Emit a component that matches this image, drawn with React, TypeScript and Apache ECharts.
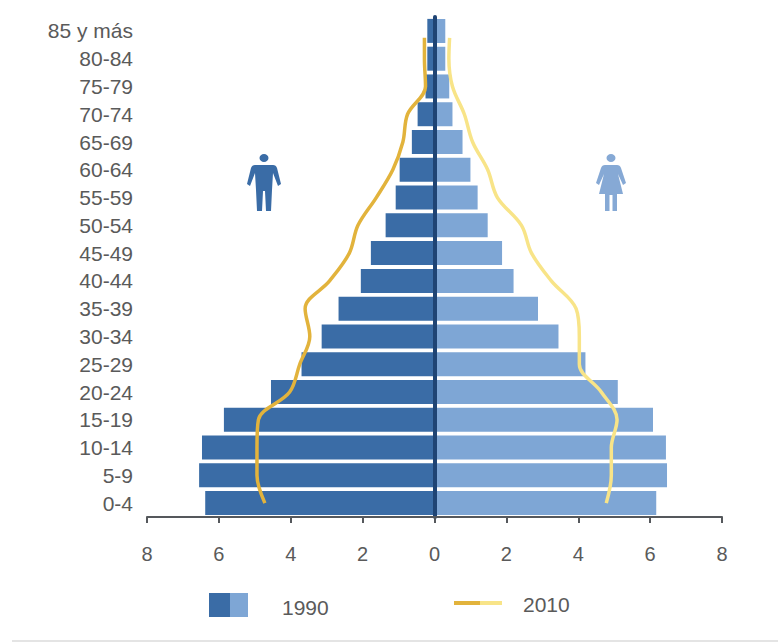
import React, { useEffect, useRef } from "react";
import * as echarts from "echarts";

// Age groups, youngest first (the category axis runs bottom to top).
const ageGroups = ["0-4", "5-9", "10-14", "15-19", "20-24", "25-29", "30-34", "35-39", "40-44", "45-49", "50-54", "55-59", "60-64", "65-69", "70-74", "75-79", "80-84", "85 y más"];

// Share of population in 1990, per cent.
const men1990 = [6.38, 6.55, 6.47, 5.86, 4.55, 3.7, 3.14, 2.67, 2.05, 1.77, 1.36, 1.08, 0.97, 0.63, 0.47, 0.25, 0.2, 0.2];
const women1990 = [6.17, 6.47, 6.44, 6.08, 5.1, 4.2, 3.45, 2.88, 2.2, 1.88, 1.48, 1.2, 1.0, 0.78, 0.5, 0.41, 0.3, 0.3];

// Share of population in 2010, per cent; the outline stops short of the top row's centre.
const men2010 = [4.72, 4.94, 4.94, 4.9, 4.03, 3.75, 3.47, 3.6, 2.92, 2.37, 2.13, 1.62, 1.16, 0.88, 0.75, 0.25, 0.28, 0.28];
const women2010 = [4.78, 4.92, 4.92, 5.08, 4.64, 4.03, 4.03, 3.94, 3.25, 2.7, 2.42, 1.75, 1.48, 1.06, 0.83, 0.5, 0.4, 0.42];
const outlineRows = [0.5, 1.5, 2.5, 3.5, 4.5, 5.5, 6.5, 7.5, 8.5, 9.5, 10.5, 11.5, 12.5, 13.5, 14.5, 15.5, 16.5, 17.25];

const xTicks = { min: -8, max: 8, interval: 2 };

const TEXT = "#5a5a5a";
const MALE = "#3a6ca6";
const FEMALE = "#7ea6d5";
const GOLD = "#e2b33c";
const PALE = "#f8e488";
const FONT = "'Liberation Sans', Arial, sans-serif";

const HEAD = "M-4.5 5a4.5 4 0 1 0 9 0a4.5 4 0 1 0-9 0Z";
const MAN = HEAD + "M-9 12L9 12Q12 12 13 15L17 31L14 33L9 20L8 37L7 58L2 58L1 38L-1 38L-2 58L-7 58L-8 37L-9 20L-14 33L-17 31L-13 15Q-12 12-9 12Z";
const WOMAN = HEAD + "M-6 12L6 12Q9 12 10 15L15 30L12 32L7 21L12 41L6 41L6 58L1.5 58L1.5 42L-1.5 42L-1.5 58L-6 58L-6 41L-12 41L-7 21L-12 32L-15 30L-10 15Q-9 12-6 12Z";

echarts.graphic.registerShape("manIcon", echarts.graphic.extendPath(MAN, {}));
echarts.graphic.registerShape("womanIcon", echarts.graphic.extendPath(WOMAN, {}));

const labelText = (x: number, y: number, text: string) => ({
  type: "text",
  x,
  y,
  style: { text, fill: TEXT, font: `21px ${FONT}`, textVerticalAlign: "middle" },
});

export default function App() {
  const ref = useRef<HTMLDivElement>(null);

  useEffect(() => {
    const chart = echarts.init(ref.current!, null, { renderer: "svg" });
    const outline = (name: string, values: number[], sign: number, color: string) => ({
      name,
      type: "line",
      yAxisIndex: 1,
      data: values.map((v, i) => [sign * v, outlineRows[i]]),
      smooth: 0.35,
      showSymbol: false,
      lineStyle: { color, width: 3.5 },
      z: 4,
    });

    chart.setOption({
      animation: false,
      backgroundColor: "#ffffff",
      grid: { left: 147, right: 56, top: 17, height: 500 },
      xAxis: {
        type: "value",
        ...xTicks,
        z: 6,
        splitLine: { show: false },
        axisLine: { show: true, onZero: false, lineStyle: { color: "#55585c", width: 2 } },
        axisTick: { show: true, length: 6, lineStyle: { color: "#55585c", width: 2 } },
        axisLabel: { color: TEXT, fontSize: 20, fontFamily: FONT, margin: 27, formatter: (v: number) => String(Math.abs(v)) },
      },
      yAxis: [
        {
          type: "category",
          data: ageGroups,
          position: "left",
          axisLine: { show: false, onZero: false },
          axisTick: { show: false },
          axisLabel: { color: TEXT, fontSize: 21, fontFamily: FONT, margin: 14, interval: 0 },
        },
        {
          // Row scale for the 2010 outlines; its line is the pyramid's central spine.
          type: "value",
          min: 0,
          max: 18,
          z: 6,
          splitLine: { show: false },
          axisTick: { show: false },
          axisLabel: { show: false },
          axisLine: { show: true, onZero: true, lineStyle: { color: "#1f4474", width: 4 } },
        },
      ],
      series: [
        {
          name: "Hombres 1990",
          type: "bar",
          stack: "pyramid",
          barWidth: 24,
          data: men1990.map((v) => -v),
          itemStyle: { color: MALE },
        },
        {
          name: "Mujeres 1990",
          type: "bar",
          stack: "pyramid",
          barWidth: 24,
          data: women1990,
          itemStyle: { color: FEMALE },
        },
        outline("Hombres 2010", men2010, -1, GOLD),
        outline("Mujeres 2010", women2010, 1, PALE),
      ],
      graphic: [
        { type: "manIcon", x: 264, y: 153, style: { fill: MALE } },
        { type: "womanIcon", x: 611, y: 153, style: { fill: "#86a9d5" } },
        { type: "rect", shape: { x: 209, y: 593, width: 21, height: 24 }, style: { fill: MALE } },
        { type: "rect", shape: { x: 230, y: 593, width: 18, height: 24 }, style: { fill: FEMALE } },
        labelText(282, 607, "1990"),
        { type: "line", shape: { x1: 454, y1: 603, x2: 480, y2: 603 }, style: { stroke: GOLD, lineWidth: 4 } },
        { type: "line", shape: { x1: 480, y1: 603, x2: 502, y2: 603 }, style: { stroke: PALE, lineWidth: 4 } },
        labelText(523, 604, "2010"),
        { type: "line", shape: { x1: 12, y1: 641, x2: 778, y2: 641 }, style: { stroke: "#e4e4e4", lineWidth: 2 } },
      ],
    });

    return () => chart.dispose();
  }, []);

  return <div ref={ref} style={{ position: "absolute", left: 0, top: 0, width: 778, height: 643 }} />;
}
